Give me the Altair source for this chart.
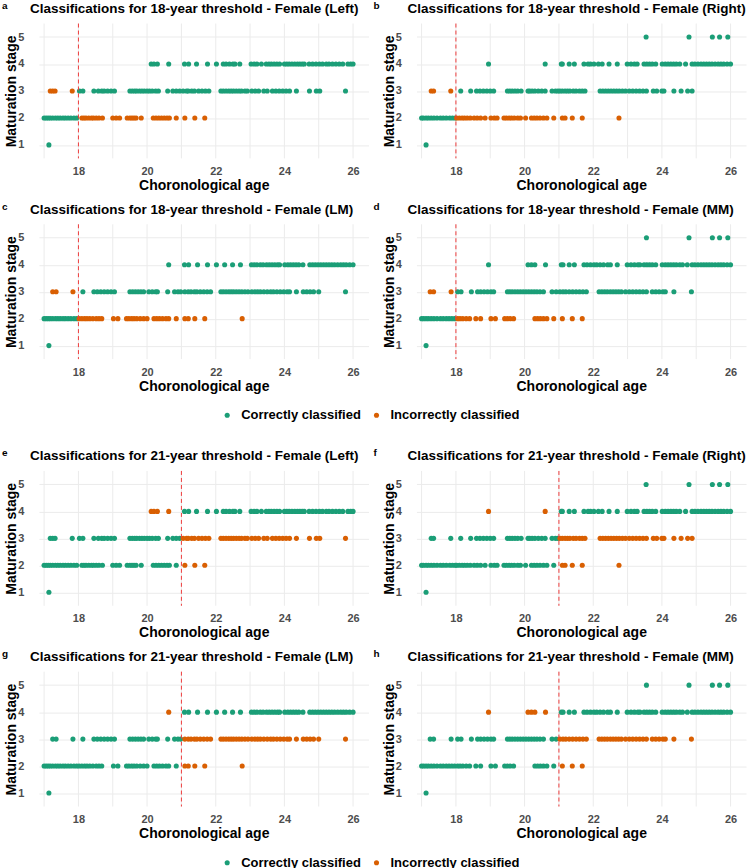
import altair as alt
import pandas as pd

FONT = "Liberation Sans"

METHODS = ["Left", "Right", "LM", "MM"]
THRESHOLDS = [18, 21]
# a stage at or above this value is read as "at or over the threshold age"
STAGE_CUT = {18: 3, 21: 4}
LETTERS = ["a", "b", "c", "d", "e", "f", "g", "h"]
CLASS_LABELS = ["Correctly classified", "Incorrectly classified"]
CLASS_COLORS = ["#1b9e77", "#d95f02"]
AGE_TICKS = [18, 20, 22, 24, 26]
AGE_GRID = [17, 18, 19, 20, 21, 22, 23, 24, 25, 26]
STAGE_TICKS = [1, 2, 3, 4, 5]

# chronological ages (years) of each maturation stage, per tooth
LEFT_STAGE1 = [17.14]
LEFT_STAGE2 = [17.0, 17.06, 17.12, 17.18, 17.25, 17.33, 17.4, 17.47, 17.55, 17.62, 17.7, 17.78, 17.87, 17.95,
               18.1, 18.16, 18.22, 18.3, 18.38, 18.44, 18.52, 18.6, 18.7, 19.0, 19.1, 19.2, 19.42, 19.5,
               19.56, 19.62, 19.68, 19.83, 20.18, 20.26, 20.34, 20.42, 20.5, 20.58, 20.65, 20.85, 21.1,
               21.39, 21.68]
LEFT_STAGE3 = [17.18, 17.25, 17.32, 17.82, 18.03, 18.13, 18.45, 18.58, 18.68, 18.75, 18.85, 18.95, 19.05,
               19.5, 19.57, 19.64, 19.7, 19.78, 19.85, 19.92, 20.0, 20.07, 20.15, 20.25, 20.33, 20.6, 20.75,
               20.85, 20.95, 21.05, 21.15, 21.2, 21.3, 21.38, 21.5, 21.6, 21.7, 21.8, 22.15, 22.22, 22.3,
               22.38, 22.45, 22.52, 22.6, 22.68, 22.75, 22.85, 22.92, 23.05, 23.15, 23.25, 23.4, 23.5,
               23.65, 23.75, 23.85, 23.95, 24.05, 24.15, 24.35, 24.73, 24.93, 25.03, 25.78]
LEFT_STAGE4 = [20.12, 20.2, 20.3, 20.63, 21.09, 21.21, 21.44, 21.76, 22.02, 22.22, 22.3, 22.4, 22.5, 22.56,
               22.7, 23.03, 23.12, 23.2, 23.33, 23.47, 23.55, 23.62, 23.7, 23.78, 23.86, 24.0, 24.07,
               24.14, 24.22, 24.3, 24.38, 24.45, 24.52, 24.58, 24.72, 24.82, 24.92, 25.02, 25.11, 25.22,
               25.3, 25.4, 25.5, 25.6, 25.7, 25.85, 25.93, 26.0]
LEFT_STAGE5 = []

RIGHT_STAGE1 = [17.13]
RIGHT_STAGE2 = [17.0, 17.05, 17.13, 17.2, 17.28, 17.36, 17.45, 17.55, 17.63, 17.72, 17.82, 17.9, 17.98,
                18.02, 18.1, 18.18, 18.25, 18.33, 18.42, 18.53, 18.62, 18.72, 18.85, 19.02, 19.12, 19.2,
                19.4, 19.47, 19.55, 19.62, 19.7, 19.8, 19.88, 20.03, 20.2, 20.28, 20.36, 20.45, 20.55,
                20.65, 20.85, 21.1, 21.18, 21.39, 21.68, 22.75]
RIGHT_STAGE3 = [17.28, 17.35, 17.85, 18.14, 18.43, 18.6, 18.7, 18.8, 18.9, 19.0, 19.1, 19.5, 19.57, 19.64,
                19.72, 19.8, 19.9, 20.1, 20.15, 20.22, 20.3, 20.4, 20.5, 20.6, 20.8, 20.9, 20.97, 21.03,
                21.1, 21.18, 21.25, 21.32, 21.42, 21.5, 21.6, 21.68, 21.76, 22.2, 22.28, 22.36, 22.44,
                22.52, 22.6, 22.68, 22.76, 22.85, 22.94, 23.05, 23.15, 23.25, 23.35, 23.45, 23.55, 23.75,
                23.85, 24.0, 24.06, 24.35, 24.56, 24.75, 24.88]
RIGHT_STAGE4 = [18.95, 20.6, 21.07, 21.1, 21.3, 21.45, 21.73, 21.85, 21.92, 22.02, 22.15, 22.26, 22.46,
                22.7, 22.99, 23.1, 23.2, 23.28, 23.48, 23.56, 23.64, 23.72, 23.82, 24.01, 24.1, 24.18,
                24.26, 24.34, 24.42, 24.52, 24.69, 24.88, 24.96, 25.05, 25.14, 25.22, 25.3, 25.38, 25.46,
                25.55, 25.64, 25.72, 25.8, 25.9, 26.0]
RIGHT_STAGE5 = [23.54, 24.79, 25.47, 25.68, 25.92]

LM_STAGE1 = [17.14]
LM_STAGE2 = [17.0, 17.06, 17.12, 17.18, 17.25, 17.33, 17.4, 17.47, 17.55, 17.62, 17.7, 17.78, 17.87, 17.95,
             18.02, 18.1, 18.18, 18.25, 18.33, 18.42, 18.52, 18.6, 18.68, 19.02, 19.15, 19.4, 19.47, 19.55,
             19.62, 19.7, 19.8, 19.9, 20.0, 20.2, 20.28, 20.36, 20.45, 20.55, 20.63, 20.85, 21.1, 21.2,
             21.39, 21.68, 22.77]
LM_STAGE3 = [17.25, 17.35, 17.84, 18.13, 18.45, 18.55, 18.65, 18.75, 18.85, 18.95, 19.05, 19.5, 19.58,
             19.66, 19.74, 19.82, 19.9, 20.05, 20.15, 20.25, 20.3, 20.6, 20.8, 20.9, 20.98, 21.1, 21.2,
             21.28, 21.38, 21.45, 21.55, 21.65, 21.75, 21.85, 22.15, 22.22, 22.3, 22.38, 22.45, 22.52,
             22.6, 22.68, 22.76, 22.85, 22.94, 23.05, 23.14, 23.22, 23.3, 23.4, 23.5, 23.6, 23.68, 23.78,
             23.88, 23.98, 24.08, 24.15, 24.35, 24.55, 24.65, 24.75, 24.85, 25.0, 25.78]
LM_STAGE4 = [20.63, 21.09, 21.21, 21.47, 21.76, 22.02, 22.26, 22.49, 22.72, 23.04, 23.12, 23.2, 23.3,
             23.38, 23.48, 23.56, 23.64, 23.72, 23.8, 23.86, 24.01, 24.1, 24.18, 24.26, 24.34, 24.42,
             24.54, 24.74, 24.82, 24.9, 24.98, 25.06, 25.14, 25.22, 25.3, 25.38, 25.46, 25.55, 25.64,
             25.72, 25.8, 25.9, 26.0]
LM_STAGE5 = []

MM_STAGE1 = [17.13]
MM_STAGE2 = [17.0, 17.06, 17.13, 17.2, 17.28, 17.36, 17.45, 17.55, 17.63, 17.72, 17.8, 17.88, 17.96,
             18.05, 18.12, 18.2, 18.3, 18.4, 18.58, 18.72, 19.02, 19.15, 19.42, 19.5, 19.58, 19.68, 20.3,
             20.38, 20.46, 20.55, 20.65, 20.85, 21.1, 21.39, 21.68]
MM_STAGE3 = [17.25, 17.35, 17.86, 18.05, 18.15, 18.45, 18.63, 18.72, 18.82, 18.92, 19.02, 19.1, 19.5,
             19.57, 19.64, 19.72, 19.8, 19.88, 19.96, 20.04, 20.12, 20.2, 20.28, 20.36, 20.45, 20.55,
             20.8, 20.92, 21.03, 21.12, 21.2, 21.3, 21.4, 21.5, 21.6, 21.7, 21.8, 22.17, 22.25, 22.33,
             22.41, 22.5, 22.58, 22.66, 22.74, 22.82, 22.94, 23.05, 23.15, 23.25, 23.35, 23.45, 23.55,
             23.72, 23.82, 23.92, 24.03, 24.1, 24.35, 24.86]
MM_STAGE4 = [18.95, 20.1, 20.2, 20.3, 20.61, 21.07, 21.12, 21.3, 21.45, 21.73, 21.82, 21.92, 22.02, 22.1,
             22.2, 22.3, 22.42, 22.5, 22.7, 22.99, 23.1, 23.2, 23.3, 23.36, 23.48, 23.56, 23.64, 23.72,
             23.82, 24.01, 24.1, 24.18, 24.26, 24.34, 24.42, 24.52, 24.6, 24.74, 24.88, 24.96, 25.05,
             25.14, 25.22, 25.3, 25.38, 25.46, 25.55, 25.64, 25.72, 25.8, 25.9, 26.0]
MM_STAGE5 = [23.55, 24.79, 25.47, 25.68, 25.92]

STAGES = {
    "Left": [LEFT_STAGE1, LEFT_STAGE2, LEFT_STAGE3, LEFT_STAGE4, LEFT_STAGE5],
    "Right": [RIGHT_STAGE1, RIGHT_STAGE2, RIGHT_STAGE3, RIGHT_STAGE4, RIGHT_STAGE5],
    "LM": [LM_STAGE1, LM_STAGE2, LM_STAGE3, LM_STAGE4, LM_STAGE5],
    "MM": [MM_STAGE1, MM_STAGE2, MM_STAGE3, MM_STAGE4, MM_STAGE5],
}

PLOT_W, PLOT_H = 330, 135
DOT_SIZE = 26
GRID_COLOR = "#ebebeb"
LEGEND_Y = 191.3          # legend row, measured from the top of the panel above it
BLOCK_GAP_Y = 213.6       # lower edge reserved below a legend row


def method_frame(method, threshold):
    rows = []
    for stage, ages in enumerate(STAGES[method], start=1):
        for age in ages:
            adult_by_age = age >= threshold
            adult_by_stage = stage >= STAGE_CUT[threshold]
            status = CLASS_LABELS[0] if adult_by_age == adult_by_stage else CLASS_LABELS[1]
            rows.append({"age": age, "stage": stage, "status": status})
    return pd.DataFrame(rows)


def legend_item(label, dot_x, reserve_gap):
    """One legend key (dot + label) drawn under a panel of the second row of a block."""
    df = pd.DataFrame({"label": [label]})
    dot = alt.Chart(df).mark_circle(size=DOT_SIZE, opacity=1).encode(
        x=alt.value(dot_x), y=alt.value(LEGEND_Y),
        color=alt.Color("label:N", scale=alt.Scale(domain=CLASS_LABELS, range=CLASS_COLORS), legend=None),
    )
    word = alt.Chart(df).mark_text(
        font=FONT, fontSize=13, fontWeight="bold", color="black",
        align="left", baseline="middle",
    ).encode(x=alt.value(dot_x + 14), y=alt.value(LEGEND_Y), text="label:N")
    layers = [dot, word]
    if reserve_gap:
        # keeps the white gap between the two blocks of panels
        gap = alt.Chart(df).mark_circle(size=1, opacity=0).encode(
            x=alt.value(dot_x), y=alt.value(BLOCK_GAP_Y))
        layers.append(gap)
    return layers


def panel(method, threshold, letter, right_column, legend_row, first_block):
    title = f"Classifications for {threshold}-year threshold - Female ({method})"
    age_scale = alt.Scale(domain=[16.85, 26.45], nice=False, zero=False)
    x = alt.X(
        "age:Q", scale=age_scale,
        axis=alt.Axis(values=AGE_TICKS, grid=False, title="Choronological age",
                      labelPadding=7, titlePadding=2, labelFlush=False),
    )
    y = alt.Y(
        "stage:Q",
        scale=alt.Scale(domain=[0.5, 5.5], nice=False, zero=False),
        axis=alt.Axis(values=STAGE_TICKS, title="Maturation stage",
                      labelPadding=15, titlePadding=-1),
    )
    # one vertical grid line per year
    year_lines = alt.Chart(pd.DataFrame({"year": AGE_GRID})).mark_rule(
        color=GRID_COLOR, strokeWidth=1
    ).encode(x=alt.X("year:Q", scale=age_scale))
    points = alt.Chart(method_frame(method, threshold)).mark_circle(
        size=DOT_SIZE, opacity=1
    ).encode(
        x=x, y=y,
        color=alt.Color("status:N",
                        scale=alt.Scale(domain=CLASS_LABELS, range=CLASS_COLORS),
                        legend=None),
    )
    cutoff = alt.Chart(pd.DataFrame({"t": [threshold]})).mark_rule(
        color="#ee3b3b", strokeDash=[4, 3], strokeWidth=1
    ).encode(x=alt.datum(threshold))

    header_df = pd.DataFrame({"letter": [letter], "title": [title]})
    heading = alt.Chart(header_df).mark_text(
        font=FONT, fontSize=13.5, fontWeight="bold", color="black",
        align="left", baseline="middle",
    ).encode(text="title:N", x=alt.value(-9), y=alt.value(-14.5))
    tag = alt.Chart(header_df).mark_text(
        font=FONT, fontSize=10, fontWeight="bold", color="black",
        align="left", baseline="middle",
    ).encode(text="letter:N", x=alt.value(-43 if right_column else -37), y=alt.value(-17.5))

    layers = [year_lines, points, cutoff, heading, tag]
    if legend_row:
        if right_column:
            layers += legend_item(CLASS_LABELS[1], -40, first_block)
        else:
            layers += legend_item(CLASS_LABELS[0], 188.5, first_block)
    return alt.layer(*layers).properties(width=PLOT_W, height=PLOT_H)


panels = []
idx = 0
for t_i, threshold in enumerate(THRESHOLDS):
    for r_i, pair in enumerate((METHODS[0:2], METHODS[2:4])):
        for col, method in enumerate(pair):
            panels.append(panel(method, threshold, LETTERS[idx], col == 1,
                                legend_row=(r_i == 1), first_block=(t_i == 0)))
            idx += 1

chart = alt.concat(
    *panels, columns=2, spacing={"row": 9, "column": 5}, align="each"
).properties(
    padding={"left": 2, "top": 0, "right": 0, "bottom": 0},
).configure_view(stroke=None).configure_axis(
    domain=False, ticks=False,
    grid=True, gridColor=GRID_COLOR, gridWidth=1,
    labelFont=FONT, labelFontSize=11, labelFontWeight="bold", labelColor="#4d4d4d",
    titleFont=FONT, titleFontSize=14, titleFontWeight="bold", titleColor="black",
).configure_text(font=FONT)

chart.save("out.html", embed_options={"renderer": "svg", "actions": False})
